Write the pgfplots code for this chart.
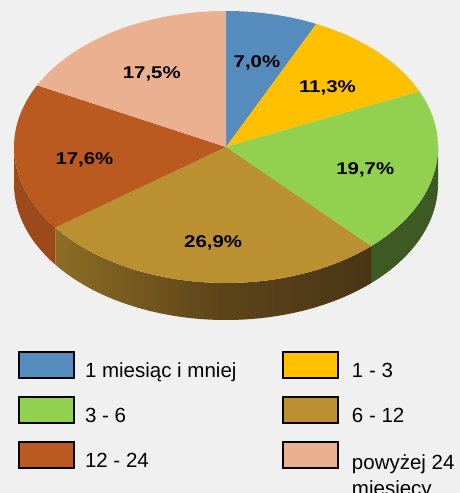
\documentclass[border=0pt]{standalone}
\usepackage{pgfplots}
\usepackage{pgfplotstable}
\pgfplotsset{compat=1.18}
\usepackage{fontspec}
\setmainfont{Liberation Sans}
\newfontfamily\labfont[FakeStretch=1.2]{Liberation Sans}

\definecolor{bgc}{HTML}{F0F0F0}
\definecolor{c1}{HTML}{568BBE}
\definecolor{c2}{HTML}{FFC000}
\definecolor{c3}{HTML}{92D050}
\definecolor{c4}{HTML}{BB9030}
\definecolor{c5}{HTML}{BA5A20}
\definecolor{c6}{HTML}{EBB090}
\definecolor{s3}{HTML}{3D5A22}
\definecolor{s4l}{HTML}{8D6D25}
\definecolor{s4m}{HTML}{5E461A}
\definecolor{s4r}{HTML}{4A3515}
\definecolor{s5}{HTML}{9C4A1C}

% shares in percent, clockwise from 12 o'clock
\pgfplotstableread{
value
7.0
11.3
19.7
26.9
17.6
17.5
}\piedata

\newcommand\PS[1]{\csname pS#1\endcsname}
\newcommand\PE[1]{\csname pE#1\endcsname}
\newcommand\PM[1]{\csname pM#1\endcsname}
\newcommand\PV[1]{\csname pV#1\endcsname}
\def\dep{0.2721}

\pgfplotsset{
  mylegend/.style={legend image code/.code={\draw[##1,draw=black,line width=1.3pt] (0pt,-7pt) rectangle (55pt,19pt);}},
}

\begin{document}
\begin{tikzpicture}
\gdef\cum{90}
\foreach \i in {0,...,5}{%
  \pgfplotstablegetelem{\i}{value}\of\piedata
  \pgfmathsetmacro\tmpe{\cum-3.6*\pgfplotsretval}%
  \pgfmathsetmacro\tmpm{\cum-1.8*\pgfplotsretval}%
  \expandafter\xdef\csname pS\i\endcsname{\cum}%
  \expandafter\xdef\csname pE\i\endcsname{\tmpe}%
  \expandafter\xdef\csname pM\i\endcsname{\tmpm}%
  \expandafter\xdef\csname pV\i\endcsname{\pgfplotsretval}%
  \xdef\cum{\tmpe}%
}
\begin{axis}[
  x=212pt, y=136pt,
  xmin=-1.066038, xmax=1.103774,
  ymin=-2.544118, ymax=1.080882,
  hide axis, clip=false,
  legend columns=2,
  legend cell align=left,
  legend style={at={(axis cs:-0.97948,-1.50257)}, anchor=north west,
    draw=none, fill=none, inner sep=0pt, outer sep=0pt,
    font=\fontsize{20.5pt}{26pt}\selectfont,
    nodes={inner sep=0pt, outer sep=0pt},
    row sep={45pt,between origins},
    /tikz/column 1/.style={column sep={66pt,between origins}},
    /tikz/column 2/.style={column sep={198pt,between origins}},
    /tikz/column 3/.style={column sep={69pt,between origins}},
  },
]
\fill[bgc] (rel axis cs:0,0) rectangle (rel axis cs:1,1);
\addplot[draw=none, forget plot] coordinates {(0,0)};

% visible sides (front half)
\fill[s3] (axis cs:{cos(\PE{2})},{sin(\PE{2})}) arc[start angle=\PE{2}, end angle=0, radius=1]
   -- (axis cs:1,{-\dep}) arc[start angle=0, end angle=\PE{2}, radius=1] -- cycle;
\shade[left color=s4l, right color=s4r, middle color=s4m]
   (axis cs:{cos(\PE{3})},{sin(\PE{3})}) arc[start angle=\PE{3}, end angle=\PS{3}, radius=1]
   -- (axis cs:{cos(\PS{3})},{sin(\PS{3})-\dep}) arc[start angle=\PS{3}, end angle=\PE{3}, radius=1] -- cycle;
\fill[s5] (axis cs:-1,0) arc[start angle=-180, end angle=\PS{4}, radius=1]
   -- (axis cs:{cos(\PS{4})},{sin(\PS{4})-\dep}) arc[start angle=\PS{4}, end angle=-180, radius=1] -- cycle;

% top faces
\fill[c1] (axis cs:0,0) -- (axis cs:{cos(\PS{0})},{sin(\PS{0})}) arc[start angle=\PS{0}, end angle=\PE{0}, radius=1] -- cycle;
\fill[c2] (axis cs:0,0) -- (axis cs:{cos(\PS{1})},{sin(\PS{1})}) arc[start angle=\PS{1}, end angle=\PE{1}, radius=1] -- cycle;
\fill[c3] (axis cs:0,0) -- (axis cs:{cos(\PS{2})},{sin(\PS{2})}) arc[start angle=\PS{2}, end angle=\PE{2}, radius=1] -- cycle;
\fill[c4] (axis cs:0,0) -- (axis cs:{cos(\PS{3})},{sin(\PS{3})}) arc[start angle=\PS{3}, end angle=\PE{3}, radius=1] -- cycle;
\fill[c5] (axis cs:0,0) -- (axis cs:{cos(\PS{4})},{sin(\PS{4})}) arc[start angle=\PS{4}, end angle=\PE{4}, radius=1] -- cycle;
\fill[c6] (axis cs:0,0) -- (axis cs:{cos(\PS{5})},{sin(\PS{5})}) arc[start angle=\PS{5}, end angle=\PE{5}, radius=1] -- cycle;

% labels
\foreach \k in {0,...,5}{%
  \edef\temp{\noexpand\node[font=\noexpand\labfont\noexpand\bfseries\noexpand\fontsize{17pt}{20pt}\noexpand\selectfont]
    at (axis cs:{0.67*cos(\PM{\k})},{0.67*sin(\PM{\k})-0.037})
    {\noexpand\pgfmathprintnumber[fixed,fixed zerofill,precision=1,use comma,assume math mode=true]{\PV{\k}}\noexpand\%};}%
  \temp
}

\addlegendimage{mylegend, fill=c1}\addlegendentry{1 miesiąc i mniej}
\addlegendimage{mylegend, fill=c2}\addlegendentry{1 - 3}
\addlegendimage{mylegend, fill=c3}\addlegendentry{3 - 6}
\addlegendimage{mylegend, fill=c4}\addlegendentry{6 - 12}
\addlegendimage{mylegend, fill=c5}\addlegendentry{12 - 24}
\addlegendimage{mylegend, fill=c6}\addlegendentry{\begin{tabular}[t]{@{}l@{}}powyżej 24\\miesięcy\end{tabular}}
\end{axis}
\pgfresetboundingbox
\path[use as bounding box] (current axis.south west) rectangle (current axis.north east);
\end{tikzpicture}
\end{document}
